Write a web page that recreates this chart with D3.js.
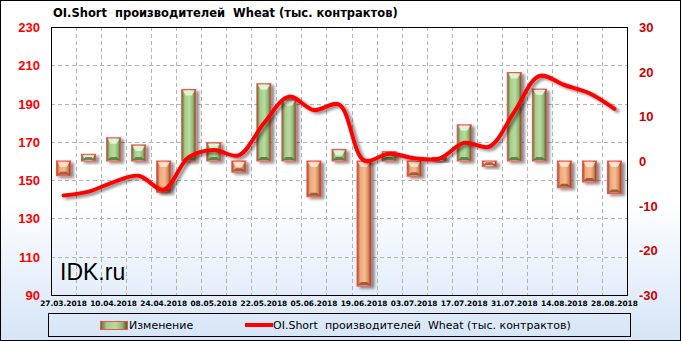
<!DOCTYPE html>
<html>
<head>
<meta charset="utf-8">
<script src="https://cdn.jsdelivr.net/npm/d3@7"></script>
<style>
  body { margin: 0; background: #fff; }
  svg { display: block; }
  text { white-space: pre; }
</style>
</head>
<body>
<div id="chart"></div>
<script>
// weekly report dates
const dates = ["27.03.2018", "03.04.2018", "10.04.2018", "17.04.2018", "24.04.2018", "01.05.2018",
    "08.05.2018", "15.05.2018", "22.05.2018", "29.05.2018", "05.06.2018", "12.06.2018",
    "19.06.2018", "26.06.2018", "03.07.2018", "10.07.2018", "17.07.2018", "24.07.2018",
    "31.07.2018", "07.08.2018", "14.08.2018", "21.08.2018", "28.08.2018"];

// weekly change (right axis)
const changes = [-3.3, 1.5, 5.2, 3.6, -7.0, 16.0, 4.1, -2.5, 17.3, 13.7, -8.0, 2.6,
    -28.0, 2.1, -3.4, 0.8, 8.1, -1.2, 19.8, 16.1, -6.0, -4.7, -7.3];

// OI.Short level (left axis)
const oiShort = [142, 144, 149, 152.3, 145, 162, 165.7, 163, 179.7, 193.6, 186.6, 189.5,
    160.3, 163.8, 161.5, 161.2, 169.5, 167.5, 185.7, 204.4, 199.7, 195.4, 187.2];

const leftTicks = [90, 110, 130, 150, 170, 190, 210, 230];
const rightTicks = [-30, -20, -10, 0, 10, 20, 30];
const xTickLabels = dates.filter((d, i) => i % 2 === 0);

const title = "OI.Short  производителей  Wheat (тыс. контрактов)";
const legendBars = "Изменение";
const legendLine = "OI.Short  производителей  Wheat (тыс. контрактов)";

const W = 681, H = 341;
const plot = { left: 51, right: 627, top: 27, bottom: 295 };

const svg = d3.select("#chart").append("svg")
    .attr("width", W)
    .attr("height", H);

const defs = svg.append("defs");

// background: white fading to light blue at the bottom
const bg = defs.append("linearGradient").attr("id", "bg")
    .attr("x1", 0).attr("y1", 0).attr("x2", 0).attr("y2", 1);
bg.append("stop").attr("offset", "0%").attr("stop-color", "#ffffff");
bg.append("stop").attr("offset", "58%").attr("stop-color", "#ffffff");
bg.append("stop").attr("offset", "100%").attr("stop-color", "#d6e5f7");

const gPos = defs.append("linearGradient").attr("id", "gPos");
gPos.append("stop").attr("offset", "0%").attr("stop-color", "#4d6b34");
gPos.append("stop").attr("offset", "22%").attr("stop-color", "#a6cc88");
gPos.append("stop").attr("offset", "55%").attr("stop-color", "#b9dba0");
gPos.append("stop").attr("offset", "80%").attr("stop-color", "#8fb873");
gPos.append("stop").attr("offset", "100%").attr("stop-color", "#3f5a2a");

const gNeg = defs.append("linearGradient").attr("id", "gNeg");
gNeg.append("stop").attr("offset", "0%").attr("stop-color", "#8a4a2a");
gNeg.append("stop").attr("offset", "22%").attr("stop-color", "#f0a878");
gNeg.append("stop").attr("offset", "55%").attr("stop-color", "#f8bc90");
gNeg.append("stop").attr("offset", "80%").attr("stop-color", "#d48f60");
gNeg.append("stop").attr("offset", "100%").attr("stop-color", "#6e3a20");

const shadow = defs.append("filter").attr("id", "shadow")
    .attr("x", "-50%").attr("y", "-50%").attr("width", "200%").attr("height", "200%");
shadow.append("feDropShadow")
    .attr("dx", 3).attr("dy", 2).attr("stdDeviation", 1.6)
    .attr("flood-color", "#000").attr("flood-opacity", 0.45);

svg.append("rect")
    .attr("x", 0.5).attr("y", 0.5)
    .attr("width", W - 1).attr("height", H - 1)
    .attr("fill", "url(#bg)")
    .attr("stroke", "#000");

// scales
const x = d3.scaleBand().domain(dates).range([plot.left, plot.right]).padding(0);
const yL = d3.scaleLinear().domain([90, 230]).range([plot.bottom, plot.top]);
const yR = d3.scaleLinear().domain([-30, 30]).range([plot.bottom, plot.top]);
const cx = d => x(d) + x.bandwidth() / 2;

// gridlines
const grid = svg.append("g")
    .attr("stroke", "#b4b4b4")
    .attr("stroke-dasharray", "4,3")
    .attr("stroke-width", 1);

grid.selectAll(".hgrid")
    .data(leftTicks.filter(t => t > 90 && t < 230))
    .enter().append("line")
    .attr("x1", plot.left).attr("x2", plot.right)
    .attr("y1", d => Math.round(yL(d)) + 0.5)
    .attr("y2", d => Math.round(yL(d)) + 0.5);

grid.selectAll(".vgrid")
    .data(dates.slice(1))
    .enter().append("line")
    .attr("x1", d => Math.round(x(d)) + 0.5)
    .attr("x2", d => Math.round(x(d)) + 0.5)
    .attr("y1", plot.top).attr("y2", plot.bottom);

// bars for weekly change
const barW = 14;
const bars = svg.append("g").selectAll(".bar")
    .data(changes)
    .enter().append("g")
    .attr("class", "bar")
    .attr("filter", "url(#shadow)");

bars.append("rect")
    .attr("x", (d, i) => cx(dates[i]) - barW / 2)
    .attr("y", d => yR(Math.max(d, 0)))
    .attr("width", barW)
    .attr("height", d => Math.max(Math.abs(yR(d) - yR(0)), 2))
    .attr("fill", d => d >= 0 ? "url(#gPos)" : "url(#gNeg)")
    .attr("stroke", "#ff4a4a")
    .attr("stroke-width", 1);

// light bevel at the top of each bar
bars.append("path")
    .attr("d", (d, i) => {
        const x0 = cx(dates[i]) - barW / 2 + 1;
        const x1 = cx(dates[i]) + barW / 2 - 1;
        const top = yR(Math.max(d, 0)) + 1;
        const h = Math.min(5, Math.abs(yR(d) - yR(0)) - 1);
        return `M${x0},${top}L${x1},${top}L${x1 - 3},${top + h}L${x0 + 3},${top + h}Z`;
    })
    .attr("fill", d => d >= 0 ? "#e8f5dc" : "#ffe6cc")
    .attr("opacity", 0.9);

// bottom darker bevel
bars.append("path")
    .attr("d", (d, i) => {
        const x0 = cx(dates[i]) - barW / 2 + 1;
        const x1 = cx(dates[i]) + barW / 2 - 1;
        const bot = yR(Math.min(d, 0)) - 1;
        const h = Math.min(3, Math.abs(yR(d) - yR(0)) - 1);
        return `M${x0},${bot}L${x1},${bot}L${x1 - 3},${bot - h}L${x0 + 3},${bot - h}Z`;
    })
    .attr("fill", d => d >= 0 ? "#4f6e38" : "#8a4a2a")
    .attr("opacity", 0.8);

// OI.Short line
const line = d3.line()
    .x((d, i) => cx(dates[i]))
    .y(d => yL(d))
    .curve(d3.curveCatmullRom.alpha(0.5));

svg.append("path")
    .datum(oiShort)
    .attr("d", line)
    .attr("fill", "none")
    .attr("stroke", "#ff0000")
    .attr("stroke-width", 4)
    .attr("stroke-linecap", "round")
    .attr("filter", "url(#shadow)");

// plot frame
svg.append("rect")
    .attr("x", plot.left + 0.5).attr("y", plot.top + 0.5)
    .attr("width", plot.right - plot.left).attr("height", plot.bottom - plot.top)
    .attr("fill", "none")
    .attr("stroke", "#000");

// left axis labels
svg.append("g").selectAll("text")
    .data(leftTicks)
    .enter().append("text")
    .attr("x", 40)
    .attr("y", d => yL(d) + 5)
    .attr("text-anchor", "end")
    .attr("fill", "#ff0000")
    .style("font", "bold 13px 'Liberation Sans', Arial, sans-serif")
    .text(d => d);

// right axis labels
svg.append("g").selectAll("text")
    .data(rightTicks)
    .enter().append("text")
    .attr("x", 639)
    .attr("y", d => yR(d) + 5)
    .attr("fill", "#cc0000")
    .style("font", "bold 13px 'Liberation Sans', Arial, sans-serif")
    .text(d => d);

// x labels
svg.append("g").selectAll("text")
    .data(xTickLabels)
    .enter().append("text")
    .attr("x", d => cx(d))
    .attr("y", 306)
    .attr("text-anchor", "middle")
    .attr("fill", "#000")
    .style("font", "bold 7.4px 'DejaVu Sans', sans-serif")
    .text(d => d);

// title
svg.append("text")
    .attr("x", 53).attr("y", 17)
    .attr("fill", "#000")
    .style("font", "bold 11.5px 'DejaVu Sans', sans-serif")
    .text(title);

// watermark
svg.append("text")
    .attr("x", 60).attr("y", 280)
    .attr("fill", "#000")
    .style("font", "23px 'Liberation Sans', Arial, sans-serif")
    .text("IDK.ru");

// legend
const lg = svg.append("g");
lg.append("rect")
    .attr("x", 48.5).attr("y", 313.5)
    .attr("width", 582).attr("height", 23)
    .attr("fill", "none")
    .attr("stroke", "#000");

lg.append("rect")
    .attr("x", 100.5).attr("y", 321.5)
    .attr("width", 27).attr("height", 8)
    .attr("fill", "url(#gPos)")
    .attr("stroke", "#ff4a4a");

lg.append("text")
    .attr("x", 129).attr("y", 329)
    .style("font", "11px 'DejaVu Sans', sans-serif")
    .text(legendBars);

lg.append("line")
    .attr("x1", 245).attr("x2", 273)
    .attr("y1", 325).attr("y2", 325)
    .attr("stroke", "#ff0000")
    .attr("stroke-width", 4);

lg.append("text")
    .attr("x", 273).attr("y", 329)
    .style("font", "11px 'DejaVu Sans', sans-serif")
    .text(legendLine);
</script>
</body>
</html>
